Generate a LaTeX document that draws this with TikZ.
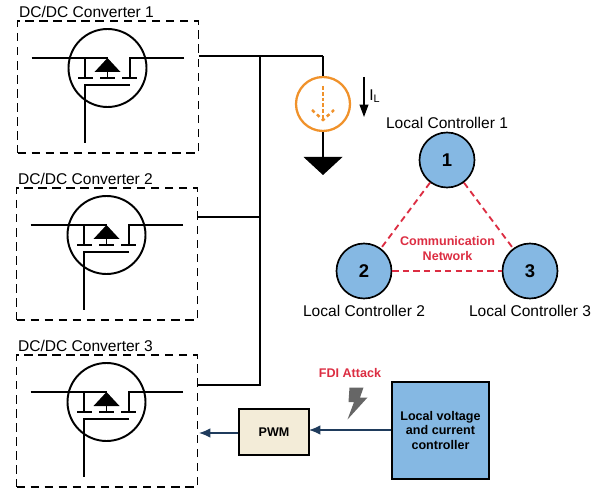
\documentclass[tikz,border=0pt]{standalone}
\usepackage{fontspec}
\setmainfont{Liberation Sans}
\usetikzlibrary{arrows.meta}
\definecolor{ctrlblue}{HTML}{85B8E3}
\definecolor{netred}{HTML}{DC2D42}
\definecolor{loadorange}{HTML}{F0922B}
\definecolor{pwmbeige}{HTML}{F3ECD8}
\definecolor{signavy}{HTML}{1F3B5C}
\tikzset{
  conv/.style={draw, dash pattern=on 4.8pt off 3.2pt, line width=.75pt, minimum width=181*.02cm, minimum height=132*.02cm, inner sep=0pt},
  wire/.style={line width=1.1pt},
  ctrl/.style={circle, draw, fill=ctrlblue, line width=.95pt, minimum size=55*.02cm, inner sep=0pt, font=\fontsize{10.5}{11}\selectfont\bfseries},
  lab/.style={font=\fontsize{8.85}{10}\selectfont, inner sep=0pt},
  boldlab/.style={font=\fontsize{7.15}{8.4}\selectfont\bfseries, inner sep=0pt, align=center},
  netlink/.style={netred, dash pattern=on 3.6pt off 2.4pt, line width=1.05pt},
  sig/.style={signavy, line width=.7pt, -{Latex[length=6.5pt,width=5.5pt]}},
}
\begin{document}
\begin{tikzpicture}[x=.02cm, y=-.02cm]
    \useasboundingbox (0,0) rectangle (601,489);
    % converters
    \foreach \n/\off/\dx in {1/0/0,2/167/-1,3/334/-1}{
        \begin{scope}[shift={(\dx,\off)}]
            \node[conv] (conv\n) at (108,87) {};
            \node[lab] (convlab\n) at (86.5,12) {DC/DC Converter \n};
            \draw[wire] (107.5,68) circle (39);
            \draw[wire] (31.5,58) -- (107.5,58) -- (107.5,78);
            \draw[wire] (184,58) -- (130,58) -- (130,78);
            \draw[wire] (85,58) -- (85,78);
            \draw[wire] (78,78) -- (93,78);
            \draw[wire] (100,78) -- (115,78);
            \draw[wire] (122,78) -- (137,78);
            \draw[wire] (130,85) -- (85,85) -- (85,143);
            \fill (107.5,58) -- (120.5,72) -- (94.5,72) -- cycle;
        \end{scope}
    }
    % bus
    \coordinate (bustop) at (260,56);
    \coordinate (busmid) at (260,217);
    \coordinate (busbot) at (260,385);
    \coordinate (loadtop) at (323,56);
    \draw[wire] (conv1.east |- bustop) -- (loadtop);
    \draw[wire] (conv2.east |- busmid) -- (busmid);
    \draw[wire] (conv3.east |- busbot) -- (busbot) -- (bustop);
    % load
    \node[circle, draw=loadorange, line width=1.3pt, minimum size=54*.02cm, inner sep=0pt] (load) at (323,104) {};
    \coordinate (gnd) at (323,157);
    \draw[wire] (loadtop) -- (load.north);
    \draw[wire] (load.south) -- (gnd);
    \fill (303.5,157) -- (342.5,157) -- (323,175) -- cycle;
    \draw[loadorange, line width=1.6pt, dash pattern=on 2.2pt off 1.1pt] (323,86) -- (323,120);
    \draw[loadorange, line width=1.4pt, dash pattern=on 2pt off 1.8pt] (312,110) -- (323,120) -- (334,110);
    % load current
    \coordinate (ilstart) at (364,77);
    \coordinate (ilend) at (364,117);
    \draw[line width=.7pt, -{Triangle[length=7pt,width=5pt]}] (ilstart) -- (ilend);
    \node[lab] (illab) at (375,96) {I\textsubscript{L}};
    % controllers
    \node[ctrl] (c1) at (447,160) {1};
    \node[ctrl] (c2) at (364,271) {2};
    \node[ctrl] (c3) at (530,271) {3};
    \node[lab] (c1lab) at (447,123) {Local Controller 1};
    \node[lab] (c2lab) at (364,311) {Local Controller 2};
    \node[lab] (c3lab) at (530,311) {Local Controller 3};
    \draw[netlink] (c1) -- (c2);
    \draw[netlink] (c1) -- (c3);
    \draw[netlink] (c2) -- (c3);
    \node[boldlab, text=netred] (netlab) at (447.5,248.5) {Communication\\Network};
    % control path
    \node[draw, fill=ctrlblue, line width=.95pt, minimum width=97*.02cm, minimum height=97*.02cm, boldlab, inner sep=0pt] (local) at (440.5,430.5) {Local voltage\\and current\\controller};
    \node[draw, fill=pwmbeige, line width=.85pt, minimum width=70*.02cm, minimum height=46*.02cm, boldlab] (pwm) at (274,432) {PWM};
    \coordinate (pwmin) at (309,430);
    \coordinate (convin) at (199,433);
    \draw[sig] (local.west |- pwmin) -- (pwmin);
    \draw[sig] (pwm.west |- convin) -- (convin);
    \node[boldlab, text=netred] (fdilab) at (350,373) {FDI Attack};
    \fill[black!60] (349.5,387.5) -- (363.5,387.5) -- (360,397.5) -- (367.5,397.5) -- (347.5,419.5) -- (354,402) -- (348.5,402) -- cycle;
\end{tikzpicture}
\end{document}
